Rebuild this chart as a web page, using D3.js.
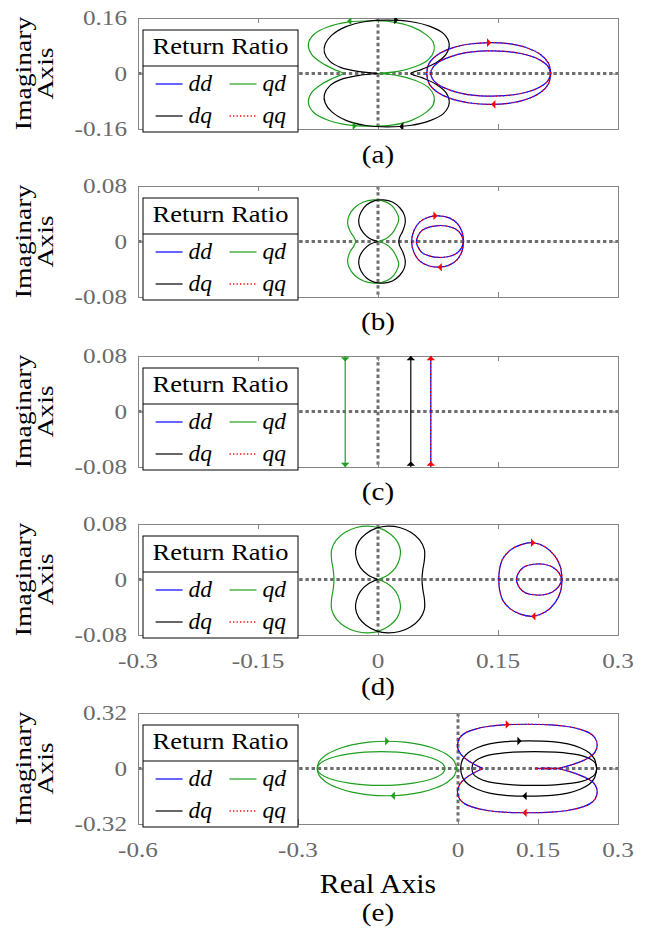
<!DOCTYPE html>
<html><head><meta charset="utf-8">
<script src="https://cdn.jsdelivr.net/npm/d3@7"></script>
<style>
body{margin:0;background:#fff}
text{font-family:"Liberation Serif","Times New Roman",serif}
</style>
</head><body>
<svg id="chart" width="652" height="929"></svg>
<script>
// ---------------- data ----------------
const panelLabels = ["(a)", "(b)", "(c)", "(d)", "(e)"];
const yLimits = [0.16, 0.08, 0.08, 0.08, 0.32];
const yTickLabels = [["0.16", "0", "-0.16"], ["0.08", "0", "-0.08"], ["0.08", "0", "-0.08"], ["0.08", "0", "-0.08"], ["0.32", "0", "-0.32"]];
const xDomainStd = [-0.3, 0.3];
const xDomainE = [-0.6, 0.3];
const xTicksStd = [-0.3, -0.15, 0, 0.15, 0.3];
const xTickLabelsStd = ["-0.3", "-0.15", "0", "0.15", "0.3"];
const xTicksE = [-0.6, -0.3, 0, 0.15, 0.3];
const xTickLabelsE = ["-0.6", "-0.3", "0", "0.15", "0.3"];
const seriesNames = ["dd", "qd", "dq", "qq"];
const legendTitle = "Return Ratio";

// Nyquist branches for positive frequency (upper half); the negative-frequency
// branch of a Nyquist plot is the complex conjugate and is drawn mirrored.
// (a)
const ddA1 = [[0.216,0],[0.213,0.03],[0.203,0.055],[0.185,0.075],[0.163,0.086],[0.14,0.089],[0.115,0.085],[0.093,0.074],[0.075,0.055],[0.064,0.03],[0.061,0]];
const ddA2 = [[0.216,0],[0.212,0.022],[0.2,0.042],[0.18,0.057],[0.158,0.064],[0.135,0.065],[0.11,0.06],[0.09,0.048],[0.075,0.032],[0.068,0.015],[0.066,0]];
const qdA = [[0,0],[0.025,0.006],[0.047,0.02],[0.063,0.04],[0.07,0.065],[0.069,0.09],[0.06,0.112],[0.042,0.135],[0.017,0.149],[-0.009,0.152],[-0.038,0.148],[-0.063,0.134],[-0.08,0.113],[-0.087,0.085],[-0.083,0.055],[-0.07,0.03],[-0.055,0.012],[-0.044,0]];
const dqA = [[0,0],[-0.025,0.006],[-0.046,0.017],[-0.06,0.035],[-0.067,0.06],[-0.066,0.085],[-0.058,0.11],[-0.04,0.135],[-0.015,0.15],[0.011,0.154],[0.04,0.15],[0.065,0.136],[0.082,0.115],[0.089,0.085],[0.085,0.055],[0.072,0.03],[0.055,0.012],[0.041,0]];
// (b)
const ddB1 = [[0.107,0],[0.105,0.014],[0.099,0.026],[0.089,0.034],[0.076,0.037],[0.063,0.035],[0.052,0.028],[0.045,0.016],[0.042,0]];
const ddB2 = [[0.107,0],[0.104,0.01],[0.097,0.018],[0.087,0.022],[0.076,0.023],[0.065,0.021],[0.055,0.016],[0.05,0.008],[0.048,0]];
const qdB = [[0,0],[0.01,0.004],[0.018,0.012],[0.023,0.022],[0.026,0.032],[0.023,0.043],[0.016,0.053],[0.005,0.059],[-0.006,0.06],[-0.018,0.057],[-0.029,0.049],[-0.036,0.038],[-0.038,0.027],[-0.035,0.015],[-0.03,0.006],[-0.028,0]];
const dqB = [[0,0],[-0.01,0.004],[-0.018,0.012],[-0.023,0.022],[-0.024,0.032],[-0.021,0.043],[-0.014,0.053],[-0.004,0.059],[0.007,0.06],[0.018,0.057],[0.027,0.049],[0.033,0.038],[0.034,0.027],[0.031,0.015],[0.027,0.006],[0.026,0]];
// (c)
const ddC = [[0.066,0.12],[0.066,0]];
const qdC = [[-0.041,0.12],[-0.041,0]];
const dqC = [[0.041,0.12],[0.041,0]];
// (d)
const ddD1 = [[0.23,0],[0.228,0.018],[0.221,0.034],[0.209,0.047],[0.194,0.053],[0.178,0.05],[0.165,0.042],[0.156,0.03],[0.152,0.015],[0.151,0]];
const ddD2 = [[0.23,0],[0.226,0.01],[0.218,0.018],[0.207,0.022],[0.195,0.022],[0.184,0.019],[0.177,0.012],[0.174,0.005],[0.173,0]];
const qdD = [[0,0],[0.012,0.006],[0.022,0.017],[0.027,0.03],[0.028,0.042],[0.024,0.055],[0.015,0.066],[0.002,0.074],[-0.012,0.077],[-0.027,0.075],[-0.041,0.068],[-0.052,0.057],[-0.058,0.043],[-0.058,0.028],[-0.056,0.014],[-0.055,0]];
const dqD = [[0,0],[-0.012,0.006],[-0.022,0.017],[-0.027,0.03],[-0.028,0.042],[-0.024,0.055],[-0.015,0.066],[-0.002,0.074],[0.012,0.077],[0.027,0.075],[0.041,0.068],[0.052,0.057],[0.058,0.043],[0.058,0.028],[0.056,0.014],[0.055,0]];
// (e)
const ddE = [[0.047,0],[0.03,0.025],[0.016,0.052],[0.006,0.08],[0.001,0.105],[-0.001,0.135],[0.003,0.176],[0.013,0.204],[0.031,0.226],[0.055,0.242],[0.086,0.252],[0.13,0.255],[0.174,0.252],[0.205,0.242],[0.229,0.226],[0.247,0.204],[0.257,0.176],[0.261,0.135],[0.257,0.094],[0.246,0.064],[0.226,0.035],[0.203,0.012],[0.185,0],[0.145,0]];
const qdE1 = [[-0.0025,0],[-0.007,0.041],[-0.02,0.079],[-0.041,0.111],[-0.068,0.136],[-0.1,0.152],[-0.134,0.157],[-0.167,0.152],[-0.199,0.136],[-0.226,0.111],[-0.247,0.079],[-0.26,0.041],[-0.264,0]];
const qdE2 = [[-0.024,0],[-0.028,0.025],[-0.04,0.049],[-0.059,0.069],[-0.084,0.084],[-0.113,0.094],[-0.144,0.097],[-0.175,0.094],[-0.204,0.084],[-0.229,0.069],[-0.248,0.049],[-0.26,0.025],[-0.264,0]];
const dqE1 = [[0.26,0],[0.256,0.054],[0.246,0.091],[0.229,0.12],[0.206,0.142],[0.176,0.155],[0.133,0.159],[0.089,0.155],[0.059,0.142],[0.036,0.12],[0.019,0.091],[0.009,0.054],[0.005,0]];
const dqE2 = [[0.026,0],[0.029,0.033],[0.039,0.056],[0.054,0.074],[0.076,0.086],[0.103,0.094],[0.143,0.097],[0.183,0.094],[0.21,0.086],[0.232,0.074],[0.247,0.056],[0.257,0.033],[0.26,0]];

// qq coincides with dd in every panel
const panelSeries = [
  {dd: [ddA1, ddA2], qd: [qdA], dq: [dqA], qq: [ddA1, ddA2]},
  {dd: [ddB1, ddB2], qd: [qdB], dq: [dqB], qq: [ddB1, ddB2]},
  {dd: [ddC], qd: [qdC], dq: [dqC], qq: [ddC]},
  {dd: [ddD1, ddD2], qd: [qdD], dq: [dqD], qq: [ddD1, ddD2]},
  {dd: [ddE], qd: [qdE1, qdE2], dq: [dqE1, dqE2], qq: [ddE]}
];
// direction arrows: [series, x, y, rotation deg]
const arrowsA = [["qd",-0.035,0.151,-90],["qd",-0.03,-0.151,90],["dq",0.022,0.154,90],["dq",0.03,-0.153,-90],["qq",0.138,0.089,90],["qq",0.145,-0.089,-90]];
const arrowsB = [["qq",0.071,0.037,90],["qq",0.078,-0.037,-90]];
const arrowsC = [["qd",-0.041,0.076,180],["qd",-0.041,-0.076,180],["dq",0.041,0.076,0],["dq",0.041,-0.076,0],["qq",0.066,0.076,0],["qq",0.066,-0.076,0]];
const arrowsD = [["qq",0.193,0.053,90],["qq",0.195,-0.053,-90]];
const arrowsE = [["qd",-0.134,0.157,90],["qd",-0.121,-0.157,-90],["dq",0.114,0.159,90],["dq",0.126,-0.159,-90],["qq",0.092,0.254,90],["qq",0.126,-0.255,-90]];
const panelArrows = [arrowsA, arrowsB, arrowsC, arrowsD, arrowsE];

// ---------------- layout / style ----------------
const styles = {
  dd: {stroke: "#0000ff", width: 1.2, dash: null},
  qd: {stroke: "#1f9f1f", width: 1.2, dash: null},
  dq: {stroke: "#000000", width: 1.2, dash: null},
  qq: {stroke: "#ff0000", width: 1.3, dash: "1.3,2.2"}
};
const arrowFill = {dd: "#0000ff", qd: "#1f9f1f", dq: "#000", qq: "#ff0000"};
const X0 = 138, X1 = 618, PH = 111;
const panelTops = [18, 186, 356, 524, 713];
const labelBaselines = [163, 330, 500, 695, 921];
const axisGray = "#858585", tickTextGray = "#6a6a6a";

const svg = d3.select("#chart");
svg.append("rect").attr("width", 652).attr("height", 929).attr("fill", "#fff");

function stretch(sel, k) {
  sel.each(function () {
    const L = this.getComputedTextLength();
    d3.select(this).attr("textLength", L * k).attr("lengthAdjust", "spacingAndGlyphs");
  });
}
function fullCurve(upper) {
  const pts = upper.concat(upper.slice().reverse().map(p => [p[0], -p[1]]));
  return pts.filter((p, i) => i === 0 || p[0] !== pts[i - 1][0] || p[1] !== pts[i - 1][1]);
}

panelTops.forEach((top, pi) => {
  const isE = pi === 4;
  const x = d3.scaleLinear().domain(isE ? xDomainE : xDomainStd).range([X0, X1]);
  const ym = yLimits[pi];
  const y = d3.scaleLinear().domain([-ym, ym]).range([top + PH, top]);
  const g = svg.append("g");
  const clipId = "clip" + pi;
  g.append("clipPath").attr("id", clipId).append("rect")
    .attr("x", X0).attr("y", top).attr("width", X1 - X0).attr("height", PH);

  const xt = isE ? xTicksE : xTicksStd;
  const xtl = isE ? xTickLabelsE : xTickLabelsStd;

  // zero lines
  const zl = g.append("g").attr("stroke", "#6e6e6e").attr("stroke-width", 3).attr("stroke-dasharray", "3.4,2.8");
  zl.append("line").attr("x1", X0).attr("x2", X1).attr("y1", y(0)).attr("y2", y(0));
  zl.append("line").attr("x1", x(0)).attr("x2", x(0)).attr("y1", top).attr("y2", top + PH);

  // axes box + ticks via d3 axes
  const axTop = d3.axisTop(x).tickValues(xt).tickSize(-5).tickFormat("");
  const axBot = d3.axisBottom(x).tickValues(xt).tickSize(-5).tickFormat("");
  const axL = d3.axisLeft(y).tickValues([-ym, 0, ym]).tickSize(-5).tickFormat("");
  const axR = d3.axisRight(y).tickValues([-ym, 0, ym]).tickSize(-5).tickFormat("");
  [[axTop, `translate(0,${top})`], [axBot, `translate(0,${top + PH})`], [axL, `translate(${X0},0)`], [axR, `translate(${X1},0)`]].forEach(([ax, tr]) => {
    const a = g.append("g").attr("transform", tr).call(ax);
    a.select(".domain").attr("stroke", axisGray).attr("stroke-width", 1);
    a.selectAll(".tick line").attr("stroke", axisGray).attr("stroke-width", 1);
  });

  // curves
  const line = d3.line().x(d => x(d[0])).y(d => y(d[1])).curve(d3.curveCatmullRom.alpha(0.5));
  const cg = g.append("g").attr("clip-path", `url(#${clipId})`);
  ["qd", "dq", "dd", "qq"].forEach(name => {
    const st = styles[name];
    panelSeries[pi][name].forEach(upper => {
      cg.append("path").attr("d", line(fullCurve(upper)))
        .attr("fill", "none").attr("stroke", st.stroke).attr("stroke-width", st.width)
        .attr("stroke-dasharray", st.dash);
    });
  });
  const sym = d3.symbol(d3.symbolTriangle).size(16);
  panelArrows[pi].forEach(([name, ax, ay, rot]) => {
    cg.append("path").attr("d", sym())
      .attr("transform", `translate(${x(ax)},${y(ay)}) rotate(${rot}) scale(1.4,0.8)`)
      .attr("fill", arrowFill[name]);
  });

  // y tick labels
  const yv = [ym, 0, -ym];
  g.selectAll(".ytl").data(yv).enter().append("text")
    .attr("x", 127).attr("y", d => y(d) + 7)
    .attr("text-anchor", "end").attr("font-size", 21).attr("fill", tickTextGray)
    .text((d, i) => yTickLabels[pi][i]).call(stretch, 1.2);

  // x tick labels on (d) and (e)
  if (pi >= 3) {
    const base = pi === 3 ? 668 : 857;
    g.selectAll(".xtl").data(xt).enter().append("text")
      .attr("x", d => x(d)).attr("y", base)
      .attr("text-anchor", "middle").attr("font-size", 21).attr("fill", tickTextGray)
      .text((d, i) => xtl[i]).call(stretch, 1.2);
  }

  // y axis label
  const cy = top + PH / 2;
  g.append("text").attr("transform", `translate(31,${cy}) rotate(-90)`)
    .attr("text-anchor", "middle").attr("font-size", 24).text("Imaginary").call(stretch, 1.15);
  g.append("text").attr("transform", `translate(53,${cy}) rotate(-90)`)
    .attr("text-anchor", "middle").attr("font-size", 24).text("Axis").call(stretch, 1.15);

  // panel label
  g.append("text").attr("x", 378).attr("y", labelBaselines[pi])
    .attr("text-anchor", "middle").attr("font-size", 26).text(panelLabels[pi]).call(stretch, 1.12);

  // legend
  const lg = g.append("g");
  const lx = 143, lw = 155, lt = top + 12, lb = top + 114;
  lg.append("rect").attr("x", lx).attr("y", lt).attr("width", lw).attr("height", lb - lt)
    .attr("fill", "#fff").attr("stroke", "#000").attr("stroke-width", 1);
  lg.append("line").attr("x1", lx).attr("x2", lx + lw).attr("y1", top + 48).attr("y2", top + 48)
    .attr("stroke", "#000").attr("stroke-width", 1);
  lg.append("text").attr("x", lx + lw / 2).attr("y", top + 36).attr("text-anchor", "middle")
    .attr("font-size", 23).text(legendTitle).call(stretch, 1.15);
  const cols = [155.6, 229.5];
  const rows = [top + 66, top + 98];
  seriesNames.forEach((name, i) => {
    const cx = cols[i % 2], ry = rows[Math.floor(i / 2)];
    const st = styles[name];
    lg.append("line").attr("x1", cx).attr("x2", cx + 27).attr("y1", ry).attr("y2", ry)
      .attr("stroke", st.stroke).attr("stroke-width", st.width).attr("stroke-dasharray", st.dash);
    lg.append("text").attr("x", cx + 33).attr("y", ry + 7).attr("font-size", 23)
      .attr("font-style", "italic").text(name).call(stretch, 1.02);
  });
});

svg.append("text").attr("x", 378).attr("y", 893).attr("text-anchor", "middle")
  .attr("font-size", 27).text("Real Axis").call(stretch, 1.1);
</script>
</body></html>
